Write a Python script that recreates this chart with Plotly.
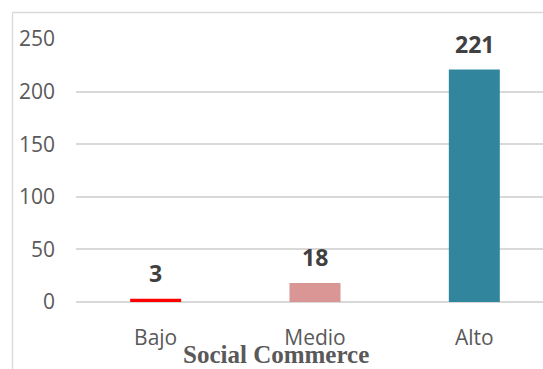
import plotly.graph_objects as go

# Niveles de Social Commerce y frecuencias
categorias = ["Bajo", "Medio", "Alto"]
frecuencias = [3, 18, 221]
colores = ["#FF0000", "#D99694", "#31859C"]
y_ticks = [0, 50, 100, 150, 200, 250]

W, H = 543, 369
L, T, B = 76, 39, 67
plot_w = W - L
plot_h = H - T - B

fig = go.Figure()
fig.add_trace(go.Bar(
    x=categorias,
    y=frecuencias,
    width=0.32,
    marker=dict(color=colores, line=dict(width=0)),
    hoverinfo="skip",
))

# Etiquetas de valor sobre cada barra
for cat, val in zip(categorias, frecuencias):
    fig.add_annotation(
        x=cat, y=val, text=f"<b>{val}</b>", showarrow=False,
        yanchor="middle", yshift=26,
        font=dict(family="Open Sans", size=23, color="#404040"),
    )

# Título del eje X
fig.add_annotation(
    xref="paper", yref="paper", x=(276 - L) / plot_w, y=-(354 - (H - B)) / plot_h,
    text="<b>Social Commerce</b>", showarrow=False,
    xanchor="center", yanchor="middle",
    font=dict(family="Liberation Serif", size=25, color="#595959"),
)

# Marco del área del gráfico
bx = (12.5 - L) / plot_w
by = 1 + (T - 12.5) / plot_h
line_style = dict(color="#D9D9D9", width=1.3)
fig.add_shape(type="line", xref="paper", yref="paper", x0=bx, x1=1.1, y0=by, y1=by, line=line_style)
fig.add_shape(type="line", xref="paper", yref="paper", x0=bx, x1=bx, y0=by, y1=-0.4, line=line_style)

fig.update_layout(
    width=W, height=H,
    margin=dict(l=L, r=0, t=T, b=B, pad=0),
    paper_bgcolor="white", plot_bgcolor="white",
    showlegend=False,
    xaxis=dict(
        range=[-0.5, 2.5 - (554 - W) / 159.5],
        showgrid=False, showline=False, zeroline=False,
        tickfont=dict(family="Open Sans", size=21, color="#595959"),
        ticklabelstandoff=21,
    ),
    yaxis=dict(
        range=[0, 250], tickvals=y_ticks,
        showgrid=True, gridcolor="#D9D9D9", gridwidth=1.5,
        zeroline=True, zerolinecolor="#D9D9D9", zerolinewidth=2,
        showline=False,
        tickfont=dict(family="Open Sans", size=21, color="#595959"),
        ticklabelstandoff=20,
    ),
)

fig.write_html("out.html")
